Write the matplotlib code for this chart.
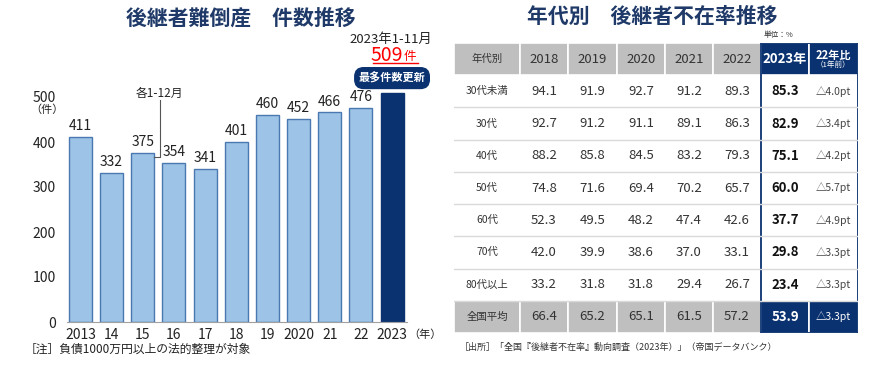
import matplotlib
matplotlib.use('Agg')
import matplotlib.pyplot as plt
from matplotlib.patches import Rectangle

plt.rcParams['font.family'] = ['Noto Sans CJK JP', 'DejaVu Sans']

# 左: 後継者難倒産 件数推移
years = ['2013', '14', '15', '16', '17', '18', '19', '2020', '21', '22', '2023']
counts = [411, 332, 375, 354, 341, 401, 460, 452, 466, 476, 509]

# 右: 年代別 後継者不在率推移
col_labels = ['年代別', '2018', '2019', '2020', '2021', '2022', '2023年', '22年比']
row_labels = ['30代未満', '30代', '40代', '50代', '60代', '70代', '80代以上', '全国平均']
rate_2018 = [94.1, 92.7, 88.2, 74.8, 52.3, 42.0, 33.2, 66.4]
rate_2019 = [91.9, 91.2, 85.8, 71.6, 49.5, 39.9, 31.8, 65.2]
rate_2020 = [92.7, 91.1, 84.5, 69.4, 48.2, 38.6, 31.8, 65.1]
rate_2021 = [91.2, 89.1, 83.2, 70.2, 47.4, 37.0, 29.4, 61.5]
rate_2022 = [89.3, 86.3, 79.3, 65.7, 42.6, 33.1, 26.7, 57.2]
rate_2023 = [85.3, 82.9, 75.1, 60.0, 37.7, 29.8, 23.4, 53.9]
diff_pt = [4.0, 3.4, 4.2, 5.7, 4.9, 3.3, 3.3, 3.3]

navy = '#0B3270'
title_c = '#1F3A68'
light = '#9DC3E6'
gray = '#BFBFBF'

fig = plt.figure(figsize=(8.84, 3.67), dpi=100)

# ---- bar chart ----
ax = fig.add_axes([67/884, 45/367, 340/884, 234/367])
x = list(range(len(years)))
colors = [light] * (len(years) - 1) + [navy]
edges = ['#4A78B0'] * (len(years) - 1) + [navy]
ax.bar(x, counts, width=0.74, color=colors, edgecolor=edges, linewidth=1)
for i, v in enumerate(counts[:-1]):
    ax.text(i, v + 24, str(v), ha='center', va='center', fontsize=10, color='#222')
ax.set_xlim(-0.43, 10.48)
ax.set_ylim(0, 520)
ax.set_yticks([0, 100, 200, 300, 400, 500])
ax.set_xticks(x)
ax.set_xticklabels(years)
ax.tick_params(length=0, labelsize=10, colors='#222')
ax.tick_params(axis='y', pad=8)
ax.tick_params(axis='x', pad=4)
for s in ['top', 'right', 'left']:
    ax.spines[s].set_visible(False)
ax.spines['bottom'].set_color('#A0A0A0')
ax.text(-0.059, 471, '（件）', transform=ax.get_yaxis_transform(), ha='center', va='center', fontsize=8, color='#222')
ax.text(1.053, -29, '（年）', transform=ax.get_yaxis_transform(), ha='center', va='center', fontsize=8, color='#222', clip_on=False)

# 各1-12月 bracket
ax.plot([2.37, 2.54, 2.54], [366, 366, 493], color='#555', lw=0.8, clip_on=False)
ax.text(2.54, 509, '各1-12月', ha='center', va='center', fontsize=8.5, color='#222', clip_on=False)

# 2023 annotation
ax.text(10, 542, '最多件数更新', ha='center', va='center', fontsize=8, color='white', fontweight='bold',
        bbox=dict(boxstyle='round,pad=0.35,rounding_size=0.8', fc=navy, ec=navy), clip_on=False)
ax.text(10.36, 593, str(counts[-1]), ha='right', va='center', fontsize=14, color='#FF0000', clip_on=False)
ax.text(10.38, 590, '件', ha='left', va='center', fontsize=9, color='#FF0000', clip_on=False)
ax.plot([9.39, 10.83], [576, 576], color='#FF0000', lw=1, clip_on=False)
ax.text(9.97, 627, '2023年1-11月', ha='center', va='center', fontsize=9.5, color='#222', clip_on=False)

fig.text(241/884, 1 - 18/367, '後継者難倒産　件数推移', ha='center', va='center', fontsize=15,
         fontweight='bold', color=title_c)
fig.text(25/884, 1 - 349/367, '［注］負債1000万円以上の法的整理が対象', ha='left', va='center', fontsize=8.5, color='#222')

# ---- table ----
widths = [66, 48, 49, 48, 48, 48, 48, 49]
bounds = [0]
for w in widths:
    bounds.append(bounds[-1] + w)
tx = fig.add_axes([454/884, 34/367, 404/884, 290/367])
tx.set_xlim(0, bounds[-1])
tx.set_ylim(len(row_labels) + 1, 0)
tx.axis('off')

def cell(c, r, fc):
    tx.add_patch(Rectangle((bounds[c], r), widths[c], 1, fc=fc, ec='white', lw=1.2))

def cx(c):
    return (bounds[c] + bounds[c + 1]) / 2

# header row
for c, lab in enumerate(col_labels):
    if c < 6:
        cell(c, 0, gray)
        tx.text(cx(c), 0.5, lab, ha='center', va='center', fontsize=7.5 if c == 0 else 9.5, color='#333')
    else:
        cell(c, 0, navy)
tx.text(cx(6), 0.5, col_labels[6], ha='center', va='center', fontsize=9.5, color='white', fontweight='bold')
tx.text(cx(7), 0.38, col_labels[7], ha='center', va='center', fontsize=8, color='white', fontweight='bold')
tx.text(cx(7), 0.68, '（1年前）', ha='center', va='center', fontsize=5.5, color='white')

series = [rate_2018, rate_2019, rate_2020, rate_2021, rate_2022]
n = len(row_labels)
for r in range(n):
    y = r + 1
    last = (r == n - 1)
    if last:
        for c in range(6):
            cell(c, y, gray)
        cell(6, y, navy)
        cell(7, y, navy)
    else:
        tx.plot([0, bounds[-1]], [y + 1, y + 1], color='#D9D9D9', lw=1)
    tx.text(cx(0), y + 0.5, row_labels[r], ha='center', va='center', fontsize=7.5, color='#333')
    for c, s in enumerate(series):
        tx.text(cx(c + 1), y + 0.5, f'{s[r]:.1f}', ha='center', va='center', fontsize=9.5, color='#333')
    tx.text(cx(6), y + 0.5, f'{rate_2023[r]:.1f}', ha='center', va='center', fontsize=9.5,
            fontweight='bold', color='white' if last else '#111')
    tx.text(cx(7), y + 0.5, f'△{diff_pt[r]:.1f}pt', ha='center', va='center', fontsize=7.5,
            color='white' if last else '#444')

# navy frame around 2023 columns
tx.add_patch(Rectangle((bounds[6], 0), bounds[8] - bounds[6], n + 1, fill=False, ec=navy, lw=1.3))

fig.text(652/884, 1 - 16/367, '年代別　後継者不在率推移', ha='center', va='center', fontsize=15,
         fontweight='bold', color=title_c)
fig.text(778/884, 1 - 35/367, '単位：%', ha='center', va='center', fontsize=5.5, color='#333')
fig.text(460/884, 1 - 347/367, '［出所］「全国『後継者不在率』動向調査（2023年）」（帝国データバンク）',
         ha='left', va='center', fontsize=6.5, color='#333')

fig.savefig('out.png', dpi=100)
